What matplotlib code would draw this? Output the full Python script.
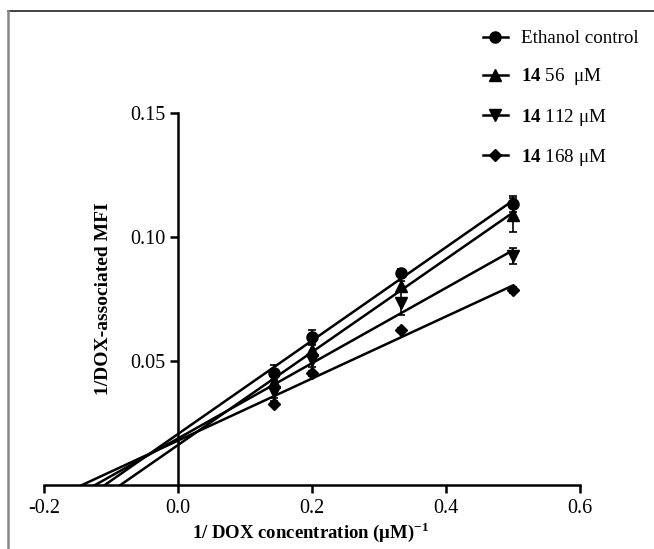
import numpy as np
import matplotlib
matplotlib.use("Agg")
import matplotlib.pyplot as plt
from matplotlib.lines import Line2D

plt.rcParams['font.family'] = ['Liberation Serif', 'DejaVu Serif']
plt.rcParams['mathtext.fontset'] = 'custom'
plt.rcParams['mathtext.rm'] = 'Liberation Serif'
plt.rcParams['mathtext.bf'] = 'Liberation Serif:bold'

# Data
inv_conc = [1/7, 1/5, 1/3, 1/2]
series_labels = ["Ethanol control", r"$\mathbf{14}$ 56  μM", r"$\mathbf{14}$ 112 μM", r"$\mathbf{14}$ 168 μM"]
ethanol = [0.0452, 0.0597, 0.0855, 0.1133]
ethanol_err = [0.003, 0.0028, 0.0015, 0.0032]
c56 = [0.0415, 0.0544, 0.0802, 0.1089]
c56_err = [0.002, 0.002, 0.002, 0.0069]
c112 = [0.0375, 0.0504, 0.0734, 0.0923]
c112_err = [0.0025, 0.003, 0.0048, 0.0032]
c168 = [0.0327, 0.0450, 0.0625, 0.0786]
c168_err = [0.001, 0.001, 0.001, 0.0012]
markers = ['o', '^', 'v', 'D']
xticks = [-0.2, 0.0, 0.2, 0.4, 0.6]
yticks = [0.05, 0.10, 0.15]

fig = plt.figure(figsize=(6.54, 5.49), dpi=100)
ax = fig.add_axes([44/654, 1-485/549, (580-44)/654, (485-113)/549])

ys = [ethanol, c56, c112, c168]
errs = [ethanol_err, c56_err, c112_err, c168_err]
x = np.array(inv_conc)
for y, e, m, lab in zip(ys, errs, markers, series_labels):
    y = np.array(y)
    slope, icpt = np.polyfit(x, y, 1)
    xl = np.array([-0.2, x.max()])
    ax.plot(xl, slope*xl + icpt, color='black', lw=1.8, solid_capstyle='butt')
    ax.errorbar(x, y, yerr=e, fmt='none', ecolor='black', elinewidth=1.2, capsize=3, capthick=1.2)
    ms = 6.5 if m == 'D' else 8
    ax.plot(x, y, linestyle='none', marker=m, color='black', ms=ms)
    ax.plot([], [], color='black', lw=1.8, marker=m, ms=ms, label=lab)

ax.set_xlim(-0.2, 0.6)
ax.set_ylim(0, 0.15)
ax.spines['left'].set_position(('data', 0))
ax.spines['top'].set_visible(False)
ax.spines['right'].set_visible(False)
for s in ['left', 'bottom']:
    ax.spines[s].set_linewidth(1.8)
ax.set_xticks(xticks)
ax.set_xticklabels([f"{v:.1f}" for v in xticks])
ax.set_yticks(yticks)
ax.set_yticklabels([f"{v:.2f}" for v in yticks])
ax.tick_params(axis='both', direction='out', length=6, width=1.8, labelsize=14.5)
ax.tick_params(axis='x', pad=4)
ax.tick_params(axis='y', pad=3)

fig.text(103/654, 1-299/549, "1/DOX-associated MFI", rotation=90, ha='center', va='center',
         fontsize=14, fontweight='bold')
fig.text(311/654, 1-532/549, r"1/ DOX concentration (μM)$^{\mathbf{-1}}$", ha='center', va='center',
         fontsize=13.5, fontweight='bold')

leg = fig.legend(loc='upper left', bbox_to_anchor=(466/654, 1-13/549), frameon=False,
                 fontsize=13.7, labelspacing=1.0, handlelength=1.3, handletextpad=0.7)

# frame lines
fig.add_artist(Line2D([8/654, 1], [1-11/549, 1-11/549], transform=fig.transFigure, color='#222222', lw=1.2))
fig.add_artist(Line2D([8/654, 8/654], [0, 1-11/549], transform=fig.transFigure, color='#888888', lw=1.8))

fig.savefig("out.png", dpi=100)
